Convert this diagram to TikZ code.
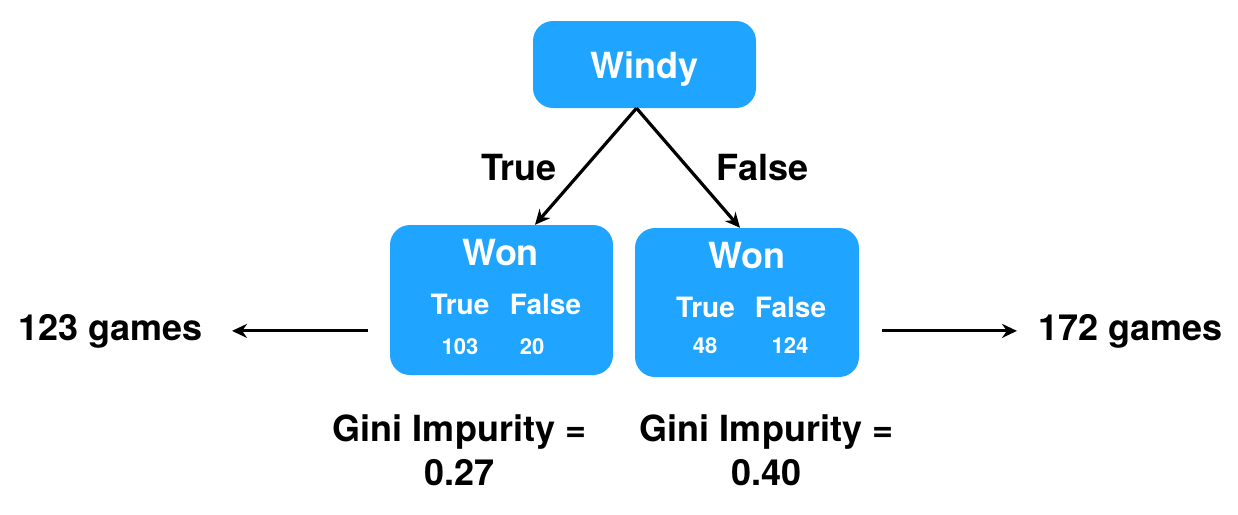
\documentclass[tikz,border=0pt]{standalone}
\usepackage{fontspec}
\setmainfont{TeX Gyre Heros}
\usepackage{xcolor}
\usetikzlibrary{arrows.meta,positioning}

\definecolor{boxblue}{HTML}{1FA5FF}
\newcommand{\bigtxt}{\fontsize{36}{40}\selectfont\bfseries}
\newcommand{\midtxt}{\fontsize{28}{32}\selectfont\bfseries}
\newcommand{\smalltxt}{\fontsize{22}{25}\selectfont\bfseries}

\tikzset{
	bluebox/.style={fill=boxblue, rounded corners=20pt, inner sep=0pt},
	boxtxt/.style={white, anchor=base, inner sep=0pt},
	blacktxt/.style={black, anchor=base, inner sep=0pt, font=\bigtxt},
	edge/.style={line width=3.2pt, -{Stealth[length=15pt, width=14pt]}}
}

\begin{document}
\begin{tikzpicture}[x=1pt, y=-1pt]
		\useasboundingbox (0,0) rectangle (1238,514);
		% Draw the three boxes
		\node[bluebox, minimum width=223pt, minimum height=87pt] (windy) at (644.5,64.5) {};
		\node[bluebox, minimum width=223pt, minimum height=150pt] (wonL) at (501.5,300) {};
		\node[bluebox, minimum width=224pt, minimum height=149pt] (wonR) at (747,302.5) {};
		% Texts inside the boxes
		\node[boxtxt, font=\bigtxt] (windyT) at (644.5,78) {Windy};
		\node[boxtxt, font=\bigtxt] (wonLT) at (500.5,265) {Won};
		\node[boxtxt, font=\midtxt] (trueL) at (460,314) {True};
		\node[boxtxt, font=\midtxt] (falseL) at (545.5,314) {False};
		\node[boxtxt, font=\smalltxt] (nTrueL) at (460,354) {103};
		\node[boxtxt, font=\smalltxt] (nFalseL) at (532,354) {20};
		\node[boxtxt, font=\bigtxt] (wonRT) at (746.5,268) {Won};
		\node[boxtxt, font=\midtxt] (trueR) at (705.5,317) {True};
		\node[boxtxt, font=\midtxt] (falseR) at (790.5,317) {False};
		\node[boxtxt, font=\smalltxt] (nTrueR) at (705,353) {48};
		\node[boxtxt, font=\smalltxt] (nFalseR) at (790,353) {124};
		% Branch labels and counts
		\node[blacktxt] (branchT) at (519,180) {True};
		\node[blacktxt] (branchF) at (762.5,180) {False};
		\node[blacktxt, anchor=base east] (gamesL) at (203,340) {123 games};
		\node[blacktxt, anchor=base west] (gamesR) at (1038,340) {172 games};
		% Gini values (base anchor sits on the last line)
		\node[blacktxt, align=center] (giniL) at (459.5,485) {Gini Impurity =\\[4pt]0.27};
		\node[blacktxt, align=center] (giniR) at (766.5,485) {Gini Impurity =\\[4pt]0.40};
		% Arrows
		\draw[edge] ([xshift=-8pt]windy.south) -- ([xshift=33.5pt]wonL.north);
		\draw[edge] ([xshift=-8pt]windy.south) -- ([xshift=-7pt]wonR.north);
		\draw[edge, shorten <=22pt, shorten >=29pt] (wonL.west |- gamesL.east) -- (gamesL.east);
		\draw[edge, shorten <=23pt, shorten >=21pt] (wonR.east |- gamesR.west) -- (gamesR.west);
	\end{tikzpicture}
\end{document}
